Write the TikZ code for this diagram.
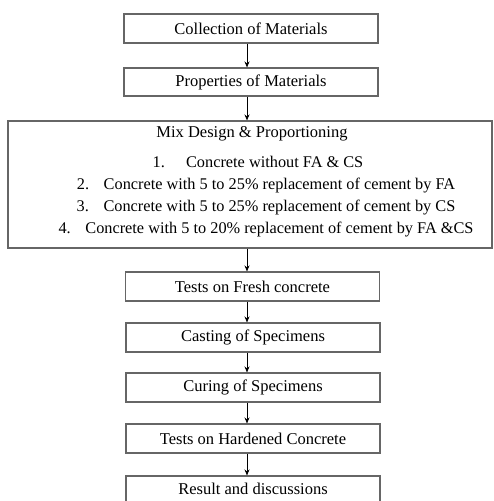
\documentclass[tikz,border=0pt]{standalone}
\usepackage{fontspec}
\setmainfont{Liberation Serif}
\usetikzlibrary{arrows.meta}
\begin{document}
\begin{tikzpicture}[x=1pt, y=-1pt, font=\fontsize{16.5}{19}\selectfont,
    stepbox/.style={draw=black!60, line width=1.1pt, minimum width=254pt, minimum height=29pt, inner sep=2pt},
    item/.style={font=\fontsize{16.3}{19}\selectfont},
    flow/.style={-{Stealth[length=6pt, width=5pt]}, line width=0.9pt}]
   \useasboundingbox (0,0) rectangle (494,501);
   \node[stepbox] (coll) at (251,28.5) {Collection of Materials};
   \node[stepbox, minimum height=28pt] (prop) at (251,82) {Properties of Materials};
   \node[stepbox, minimum width=484pt, minimum height=127pt] (mix) at (250,184.5) {};
   \node (mixt) at (252,134) {Mix Design \& Proportioning};
   \node[item] (m1) at (258,162) {1.\hspace{1.3em}Concrete without FA \& CS};
   \node[item] (m2) at (266,186) {2.\hspace{0.9em}Concrete with 5 to 25\% replacement of cement by FA};
   \node[item] (m3) at (266,208) {3.\hspace{0.9em}Concrete with 5 to 25\% replacement of cement by CS};
   \node[item] (m4) at (266,230) {4.\hspace{0.9em}Concrete with 5 to 20\% replacement of cement by FA \&CS};
   \node[stepbox] (fresh) at (252.5,286.5) {Tests on Fresh concrete};
   \node[stepbox] (cast) at (253,337.5) {Casting of Specimens};
   \node[stepbox] (cure) at (253,387.5) {Curing of Specimens};
   \node[stepbox] (hard) at (253,438.5) {Tests on Hardened Concrete};
   \node[stepbox, minimum height=26pt] (res) at (253,489) {Result and discussions};
   \draw[flow] (coll.south -| 247,0) -- (prop.north -| 247,0);
   \draw[flow] (prop.south -| 247,0) -- (mix.north -| 247,0);
   \draw[flow] (mix.south -| 247,0) -- (fresh.north -| 247,0);
   \draw[flow] (fresh.south -| 247,0) -- (cast.north -| 247,0);
   \draw[flow] (cast.south -| 247,0) -- (cure.north -| 247,0);
   \draw[flow] (cure.south -| 247,0) -- (hard.north -| 247,0);
   \draw[flow] (hard.south -| 247,0) -- (res.north -| 247,0);
\end{tikzpicture}
\end{document}
